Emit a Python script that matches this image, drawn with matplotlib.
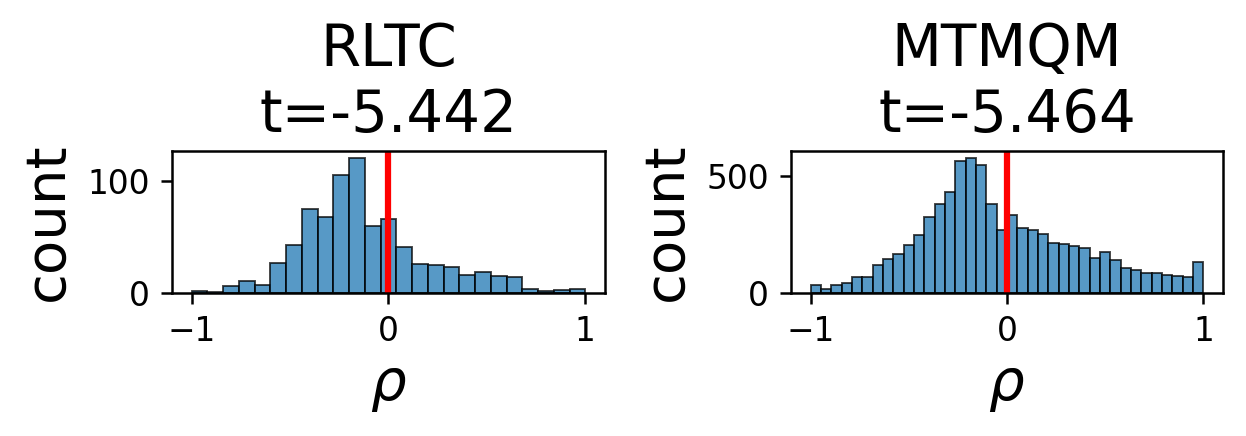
import numpy as np
import matplotlib
matplotlib.use("Agg")
import matplotlib.pyplot as plt

# histogram counts, bins span [-1, 1]
rltc_counts = [2, 1, 6, 11, 7, 27, 43, 75, 68, 106, 121, 60, 66,
               41, 26, 25, 23, 16, 19, 15, 14, 4, 2, 3, 4]
mtmqm_counts = [33, 19, 33, 43, 69, 69, 121, 144, 169, 207, 247, 327, 379,
                434, 563, 579, 550, 383, 271, 336, 280, 270, 251, 216, 211,
                200, 191, 150, 177, 141, 107, 100, 86, 86, 77, 71, 67, 133]

titles = ["RLTC\nt=-5.442", "MTMQM\nt=-5.464"]
yticks = [[0, 100], [0, 500]]
xticks = [-1, 0, 1]

DPI = 225
fig = plt.figure(figsize=(1246 / DPI, 436 / DPI), dpi=DPI)
positions = [[0.138, 0.328, 0.3475, 0.3257], [0.6348, 0.328, 0.3467, 0.3257]]

for pos, counts, title, yt in zip(positions, [rltc_counts, mtmqm_counts], titles, yticks):
    ax = fig.add_axes(pos)
    edges = np.linspace(-1, 1, len(counts) + 1)
    ax.bar(edges[:-1], counts, width=np.diff(edges), align="edge",
           color="#1f77b4", alpha=0.75, edgecolor="black", linewidth=0.6)
    ax.axvline(0, color="red", linewidth=2)
    ax.set_title(title, fontsize=18.5)
    ax.set_xlabel(r"$\rho$", fontsize=18)
    ax.set_ylabel("count", fontsize=18)
    ax.set_xticks(xticks)
    ax.set_yticks(yt)
    ax.tick_params(labelsize=10.5)
    ax.set_xlim(-1.1, 1.1)

fig.savefig("out.png", dpi=DPI)
